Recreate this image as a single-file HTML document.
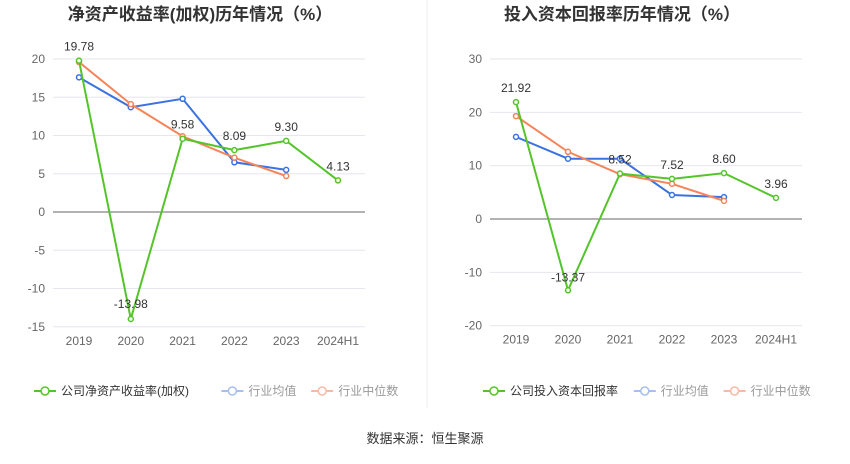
<!DOCTYPE html>
<html><head><meta charset="utf-8">
<style>
body{margin:0;width:850px;height:459px;background:#fff;overflow:hidden;font-family:"Liberation Sans","Noto Sans CJK SC",sans-serif;}
svg text{font-family:"Liberation Sans","Noto Sans CJK SC",sans-serif;}
</style></head>
<body>
<svg id="c" width="850" height="459"></svg>
<script>
const categories=["2019","2020","2021","2022","2023","2024H1"];
const roeCompany=[19.78,-13.98,9.58,8.09,9.30,4.13];
const roeAvg=[17.6,13.7,14.8,6.5,5.5];
const roeMedian=[19.6,14.1,9.9,7.1,4.7];
const roeTicks=[20,15,10,5,0,-5,-10,-15];
const roicCompany=[21.92,-13.37,8.52,7.52,8.60,3.96];
const roicAvg=[15.4,11.3,11.3,4.5,4.1];
const roicMedian=[19.3,12.6,8.4,6.6,3.4];
const roicTicks=[30,20,10,0,-10,-20];

const NS="http://www.w3.org/2000/svg";
const svg=document.getElementById('c');
function el(t,a,txt,p){const e=document.createElementNS(NS,t);for(const k in a)e.setAttribute(k,a[k]);if(txt!=null)e.textContent=txt;(p||svg).appendChild(e);return e;}

function chart(o){
  const g=el('g',{});
  
  
  const y=v=>o.y0+(o.yTop-o.y0)*(v/o.tTop);
  const x=i=>o.x0+i*o.dx;
  const t=el('text',{x:o.titleX,y:20,'text-anchor':'middle','font-size':17,'font-weight':'bold',fill:'#333'},o.title,g);
  
  o.ticks.forEach(v=>{
    const gl=el('line',{x1:o.left,x2:o.right,y1:y(v),y2:y(v),stroke:v===0?'#666':'#e6e6ee','stroke-width':1},null,g);
    
    const tl=el('text',{x:o.left-8,y:y(v)+4,'text-anchor':'end','font-size':12,fill:'#666'},String(v),g);
    
  });
  const yb=y(o.ticks[o.ticks.length-1]);
  categories.forEach((c,i)=>{
    const xl=el('text',{x:x(i),y:yb+18,'text-anchor':'middle','font-size':12,fill:'#666'},c,g);
    
  });
  function series(vals,color,nm){
    const pts=vals.map((v,i)=>x(i)+','+y(v)).join(' ');
    const pl=el('polyline',{points:pts,fill:'none',stroke:color,'stroke-width':2},null,g);
    
    vals.forEach((v,i)=>{
      const c=el('circle',{cx:x(i),cy:y(v),r:2.5,fill:'#fff',stroke:color,'stroke-width':1.5},null,g);
      
    });
  }
  series(o.avg,'#3a72e0','industry-avg');
  series(o.med,'#f5845a','industry-median');
  series(o.comp,'#55c42a','company');
  o.comp.forEach((v,i)=>{
    const yy=v<0?y(v)+o.negOff:y(v)-10;
    const lb=el('text',{x:x(i),y:yy,'text-anchor':'middle','font-size':12,fill:'#333'},v.toFixed(2),g);
    
  });
  const lg=el('g',{},null,g);
  
  const items=[[o.legend,'#55c42a'],['行业均值','#a7bff0'],['行业中位数','#f9b9a2']];
  let lx=o.legX;
  items.forEach(([txt,col],k)=>{
    const e=el('g',{},null,lg);
    
    el('line',{x1:lx,x2:lx+22,y1:391,y2:391,stroke:col,'stroke-width':2},null,e);
    el('circle',{cx:lx+11,cy:391,r:4,fill:'#fff',stroke:col,'stroke-width':1.5},null,e);
    el('text',{x:lx+27,y:395,'font-size':12,fill:k===0?'#333':'#999'},txt,e);
    lx+=27+txt.length*12.2+14;
  });
}
chart({name:'roe-chart',title:'净资产收益率(加权)历年情况（%）',titleX:200,left:53,right:365,x0:79,dx:51.8,y0:212,yTop:59,tTop:20,ticks:roeTicks,comp:roeCompany,avg:roeAvg,med:roeMedian,legend:'公司净资产收益率(加权)',legX:34,negOff:-11});
chart({name:'roic-chart',title:'投入资本回报率历年情况（%）',titleX:622,left:490,right:802,x0:516,dx:52,y0:219,yTop:59,tTop:30,ticks:roicTicks,comp:roicCompany,avg:roicAvg,med:roicMedian,legend:'公司投入资本回报率',legX:483,negOff:-9});
const d=el('line',{x1:427,x2:427,y1:0,y2:408,stroke:'#eee'});

const s=el('text',{x:425,y:443,'text-anchor':'middle','font-size':13,fill:'#333'},'数据来源：恒生聚源');

</script>
</body></html>
